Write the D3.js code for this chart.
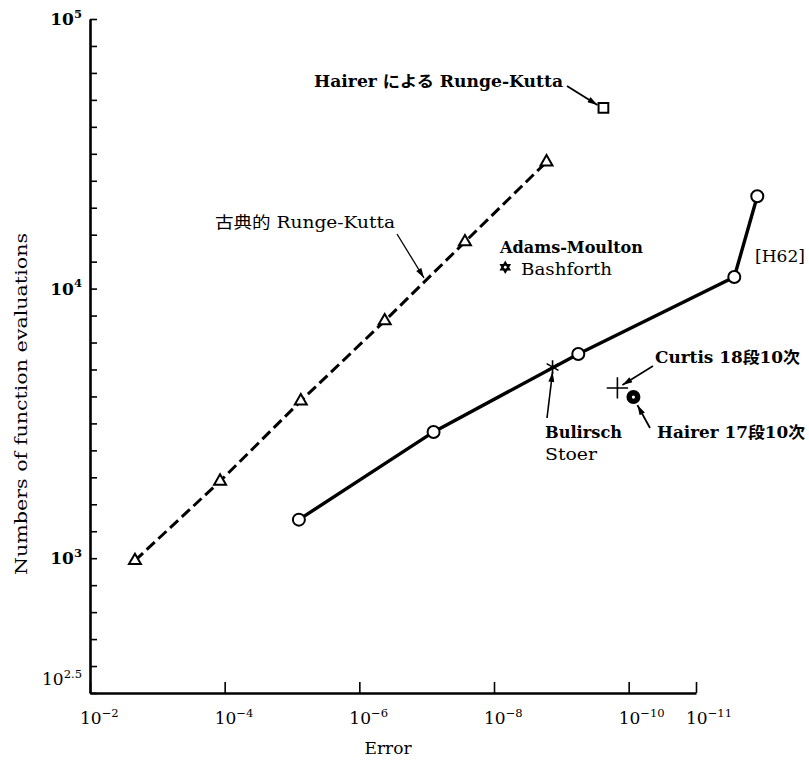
<!DOCTYPE html>
<html lang="en">
<head>
<meta charset="UTF-8">
<title>Error vs function evaluations</title>
<script src="https://d3js.org/d3.v7.min.js"></script>
<style>
    body { margin: 0; background: #fff; }
    svg { display: block; }
    text { font-family: "DejaVu Serif", "Liberation Serif", "Noto Sans CJK JP", serif; fill: #000; }
</style>
</head>
<body>
<svg id="chart" width="809" height="763"></svg>
<script>
// classical Runge-Kutta (triangles, dashed)
const classicErr = [2.15e-3, 1.17e-4, 7.4e-6, 4.2e-7, 2.7e-8, 1.66e-9];
const classicEval = [980, 1930, 3830, 7590, 14900, 29500];

// [H62] (circles, solid)
const h62Err = [7.9e-6, 7.9e-8, 5.6e-10, 2.7e-12, 1.23e-12];
const h62Eval = [1390, 2940, 5720, 11040, 22000];

// single methods
const singleKeys = ["hairerRK", "adams", "bulirsch", "curtis", "hairer17"];
const singleErr = [2.37e-10, 6.8e-9, 1.35e-9, 1.47e-10, 8.5e-11];
const singleEval = [46800, 12000, 5120, 4280, 3960];

// axes
const xTicks = [1e-2, 1e-4, 1e-6, 1e-8, 1e-10, 1e-11];
const xTickExp = ["-2", "-4", "-6", "-8", "-10", "-11"];
const yMajor = [1e5, 1e4, 1e3, Math.pow(10, 2.5)];
const yMajorExp = ["5", "4", "3", "2.5"];

const svg = d3.select("#chart");

const x = d3.scaleLog().domain([1e-2, 1e-11]).range([90, 696]);
const y = d3.scaleLog().domain([Math.pow(10, 2.5), 1e5]).range([693, 19]);

// arrow head
svg.append("defs").append("marker")
    .attr("id", "arrow")
    .attr("viewBox", "0 0 10 6")
    .attr("refX", 10).attr("refY", 3)
    .attr("markerWidth", 11).attr("markerHeight", 6)
    .attr("markerUnits", "userSpaceOnUse")
    .attr("orient", "auto")
  .append("path")
    .attr("d", "M0,0 L10,3 L0,6 z")
    .attr("fill", "#000");

// y axis, ticks every 0.1 decade pointing inward
const yMinor = d3.range(25, 51).map(d => Math.pow(10, d / 10));
const yAxis = svg.append("g")
    .attr("transform", "translate(" + x(1e-2) + ",0)")
    .call(d3.axisLeft(y).tickValues(yMinor).tickSizeInner(-7).tickSizeOuter(0).tickFormat(""));
yAxis.select(".domain").attr("stroke-width", 2.6);
yAxis.selectAll(".tick line").attr("stroke-width", 1.6);

// x axis, ticks pointing up
const xAxis = svg.append("g")
    .attr("transform", "translate(0," + y.range()[0] + ")")
    .call(d3.axisBottom(x).tickValues(xTicks).tickSizeInner(-11).tickSizeOuter(0).tickFormat(""));
xAxis.select(".domain").attr("stroke-width", 2.6);
xAxis.selectAll(".tick line").attr("stroke-width", 1.6);

// tick labels
function powLabel(g, exp, size) {
    g.append("tspan").text("10").attr("font-size", size);
    g.append("tspan").text(exp).attr("font-size", size * 0.68).attr("dy", -size * 0.42);
}

xTicks.forEach((v, i) => {
    const t = svg.append("text")
        .attr("x", x(v) - 10).attr("y", 724)
        .attr("text-anchor", "start");
    powLabel(t, xTickExp[i].replace("-", "\u2212"), 17);
});

yMajor.forEach((v, i) => {
    const t = svg.append("text")
        .attr("x", 82)
        .attr("y", y(v) + (i === 3 ? -8 : 6))
        .attr("text-anchor", "end")
        .attr("font-weight", i === 3 ? "normal" : "bold");
    powLabel(t, yMajorExp[i], 17);
});

svg.append("text")
    .attr("x", 388).attr("y", 754)
    .attr("text-anchor", "middle")
    .attr("font-size", 17)
    .text("Error");

svg.append("text")
    .attr("transform", "translate(27,404) rotate(-90)")
    .attr("text-anchor", "middle")
    .attr("font-size", 17)
    .attr("textLength", 342)
    .attr("lengthAdjust", "spacingAndGlyphs")
    .text("Numbers of function evaluations");

// lines
const classic = classicErr.map((e, i) => [e, classicEval[i]]);
const h62 = h62Err.map((e, i) => [e, h62Eval[i]]);
const line = d3.line().x(d => x(d[0])).y(d => y(d[1]));

svg.append("path")
    .attr("d", line(classic))
    .attr("fill", "none")
    .attr("stroke", "#000")
    .attr("stroke-width", 3)
    .attr("stroke-dasharray", "11,5");

svg.append("path")
    .attr("d", line(h62))
    .attr("fill", "none")
    .attr("stroke", "#000")
    .attr("stroke-width", 3.4);

// markers
svg.selectAll(".tri")
    .data(classic)
    .join("path")
    .attr("class", "tri")
    .attr("transform", d => "translate(" + x(d[0]) + "," + y(d[1]) + ")")
    .attr("d", d3.symbol(d3.symbolTriangle, 62))
    .attr("fill", "#fff")
    .attr("stroke", "#000")
    .attr("stroke-width", 2);

svg.selectAll(".circ")
    .data(h62)
    .join("circle")
    .attr("class", "circ")
    .attr("cx", d => x(d[0]))
    .attr("cy", d => y(d[1]))
    .attr("r", 6)
    .attr("fill", "#fff")
    .attr("stroke", "#000")
    .attr("stroke-width", 2);

const pos = {};
singleKeys.forEach((k, i) => { pos[k] = [x(singleErr[i]), y(singleEval[i])]; });

// Hairer Runge-Kutta: open square
svg.append("path")
    .attr("transform", "translate(" + pos.hairerRK + ")")
    .attr("d", d3.symbol(d3.symbolSquare, 95))
    .attr("fill", "#fff").attr("stroke", "#000").attr("stroke-width", 2);

// Adams-Moulton-Bashforth: hexagram
[0, 180].forEach(r => {
    svg.append("path")
        .attr("transform", "translate(" + pos.adams + ") rotate(" + r + ")")
        .attr("d", d3.symbol(d3.symbolTriangle, 58))
        .attr("fill", "#000");
});
svg.append("circle").attr("cx", pos.adams[0]).attr("cy", pos.adams[1]).attr("r", 1.4).attr("fill", "#fff");

// Bulirsch-Stoer: asterisk
svg.append("path")
    .attr("transform", "translate(" + pos.bulirsch + ")")
    .attr("d", d3.symbol(d3.symbolAsterisk, 130))
    .attr("fill", "none").attr("stroke", "#000").attr("stroke-width", 1.6);

// Curtis: plus
svg.append("path")
    .attr("transform", "translate(" + pos.curtis + ")")
    .attr("d", d3.symbol(d3.symbolPlus, 150))
    .attr("fill", "none").attr("stroke", "#000").attr("stroke-width", 1.6);

// Hairer 17 stage: filled circle with a dot
svg.append("circle").attr("cx", pos.hairer17[0]).attr("cy", pos.hairer17[1]).attr("r", 7).attr("fill", "#000");
svg.append("circle").attr("cx", pos.hairer17[0]).attr("cy", pos.hairer17[1]).attr("r", 1.6).attr("fill", "#fff");

// annotations
function label(tx, ty, str, len, weight) {
    return svg.append("text")
        .attr("x", tx).attr("y", ty)
        .attr("font-size", 16)
        .attr("font-weight", weight || "normal")
        .attr("textLength", len)
        .attr("lengthAdjust", "spacingAndGlyphs")
        .text(str);
}
function arrow(x1, y1, x2, y2, w) {
    svg.append("line")
        .attr("x1", x1).attr("y1", y1).attr("x2", x2).attr("y2", y2)
        .attr("stroke", "#000").attr("stroke-width", w || 1.3)
        .attr("marker-end", "url(#arrow)");
}

label(314, 87, "Hairer による Runge-Kutta", 249, "bold");
arrow(567, 86, pos.hairerRK[0] - 6, pos.hairerRK[1] - 3, 1.8);

label(215, 228, "古典的 Runge-Kutta", 180);
arrow(397, 234, 424, 278);

label(500, 253, "Adams-Moulton", 143, "bold");
label(521, 275, "Bashforth", 91);

label(755, 262, "[H62]", 50);

label(655, 363, "Curtis 18段10次", 145, "bold");
arrow(653, 366, pos.curtis[0] + 5, pos.curtis[1] - 3, 1.6);

label(657, 438, "Hairer 17段10次", 148, "bold");
arrow(650, 428, pos.hairer17[0] + 4, pos.hairer17[1] + 8, 1.8);

label(545, 438, "Bulirsch", 77, "bold");
label(545, 460, "Stoer", 52);
arrow(547, 418, pos.bulirsch[0], pos.bulirsch[1] + 5, 1.6);
</script>
</body>
</html>
